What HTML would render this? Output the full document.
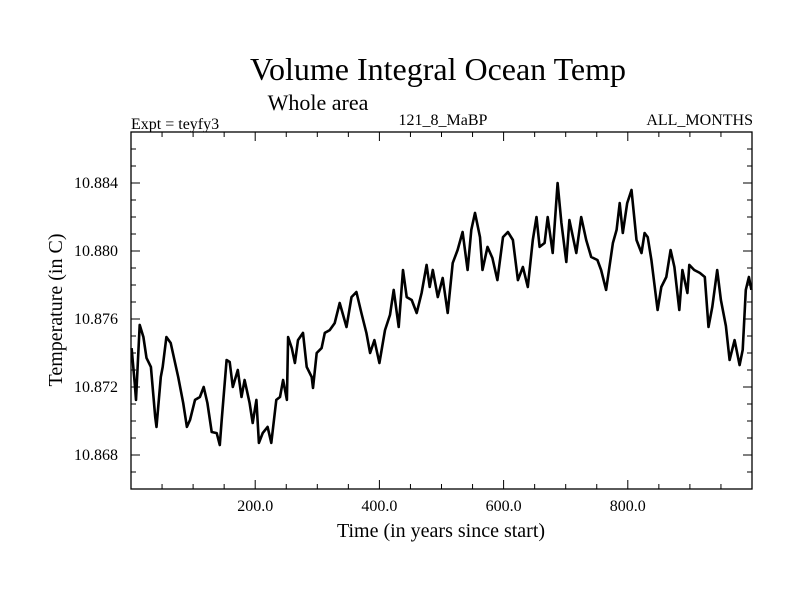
<!DOCTYPE html>
<html><head><meta charset="utf-8">
<style>
html,body{margin:0;padding:0;background:#fff;}
svg{display:block;font-family:"Liberation Serif",serif;}
</style></head>
<body>
<svg id="chart" width="800" height="600" viewBox="0 0 800 600">
<text x="438" y="80" font-size="32" text-anchor="middle">Volume Integral Ocean Temp</text>
<text x="318" y="110" font-size="22" text-anchor="middle">Whole area</text>
<text x="131" y="129" font-size="16">Expt = teyfy3</text>
<text x="443" y="125" font-size="16" text-anchor="middle">121_8_MaBP</text>
<text x="753" y="125" font-size="16" text-anchor="end">ALL_MONTHS</text>
<text x="441" y="537" font-size="20" text-anchor="middle">Time (in years since start)</text>
<text transform="translate(62,310) rotate(-90)" font-size="20" text-anchor="middle">Temperature (in C)</text>
<g id="axes"></g>
<g id="plot"></g>
</svg>
<script>
const years=[1,6,8,14,20,25,32,39,41,48,51,57,64,71,76,84,90,95,103,111,117,123,130,138,143,146,154,159,164,172,178,183,191,196,202,206,212,220,226,234,240,245,251,253,259,264,269,277,283,291,293,299,307,312,320,328,336,347,355,363,371,379,385,392,400,409,417,423,431,438,444,452,460,468,476,481,486,494,502,510,518,526,534,542,548,554,562,566,574,582,590,599,607,615,623,631,639,647,653,658,666,671,679,687,693,701,706,717,725,733,741,751,757,765,776,782,787,792,799,806,814,822,827,832,838,848,854,862,869,875,883,888,896,899,907,916,924,930,936,944,950,958,964,972,980,985,990,995,999];
const temps=[10.87429,10.87224,10.87124,10.87565,10.87494,10.87371,10.87318,10.87024,10.86965,10.87259,10.87318,10.87494,10.87459,10.87341,10.87259,10.87106,10.86965,10.87006,10.87124,10.87141,10.872,10.87106,10.86935,10.86929,10.86859,10.87006,10.87359,10.87347,10.872,10.873,10.87141,10.87241,10.87106,10.86988,10.87124,10.86871,10.86929,10.86965,10.86871,10.87124,10.87141,10.87241,10.87124,10.87494,10.87429,10.87341,10.87476,10.87518,10.87318,10.87259,10.87194,10.874,10.87429,10.87518,10.87535,10.87576,10.87694,10.87553,10.87729,10.87759,10.87635,10.87518,10.874,10.87476,10.87341,10.87535,10.87624,10.87771,10.87553,10.87888,10.87729,10.87712,10.87635,10.87753,10.87918,10.87788,10.87888,10.87729,10.87841,10.87635,10.87929,10.88006,10.88112,10.87888,10.88124,10.88224,10.88082,10.87888,10.88024,10.87959,10.87829,10.88082,10.88112,10.88065,10.87829,10.87906,10.87788,10.88065,10.882,10.88024,10.88047,10.882,10.87988,10.884,10.88165,10.87935,10.88182,10.87988,10.882,10.88065,10.87965,10.87947,10.87888,10.87771,10.88047,10.88124,10.88282,10.88106,10.88282,10.88359,10.88065,10.87988,10.88106,10.88082,10.87947,10.87653,10.87788,10.87847,10.88006,10.87906,10.87653,10.87888,10.87753,10.87918,10.87888,10.87871,10.87847,10.87553,10.87671,10.87888,10.87712,10.87559,10.87359,10.87476,10.87329,10.87418,10.87771,10.87847,10.87771];
const xTickVals=[200,400,600,800];
const xTickLabels=["200.0","400.0","600.0","800.0"];
const yTickVals=[10.868,10.872,10.876,10.880,10.884];
const yTickLabels=["10.868","10.872","10.876","10.880","10.884"];
const X0=131,X1=752,Y0=489,Y1=132,xMin=0,xMax=1000,yMin=10.866,yMax=10.887;
function xs(v){return X0+(v-xMin)/(xMax-xMin)*(X1-X0);}
function ys(v){return Y0-(v-yMin)/(yMax-yMin)*(Y0-Y1);}
const NS="http://www.w3.org/2000/svg";
const axes=document.getElementById('axes'),plot=document.getElementById('plot');
function mk(tag,attrs,parent){const e=document.createElementNS(NS,tag);for(const k in attrs)e.setAttribute(k,attrs[k]);parent.appendChild(e);return e;}
const frame=mk('rect',{x:X0,y:Y1,width:X1-X0,height:Y0-Y1,fill:'none',stroke:'#000','stroke-width':1.3},axes);


for(let v=0;v<=1000;v+=50){
  const major=v%200===0;const L=major?9:5;const x=xs(v);
  const t1=mk('line',{x1:x,x2:x,y1:Y0,y2:Y0-L,stroke:'#000','stroke-width':1},axes);
  
  
  const t2=mk('line',{x1:x,x2:x,y1:Y1,y2:Y1+L,stroke:'#000','stroke-width':1},axes);
  
  
}
for(let i=0;i<=21;i++){
  const v=yMin+i*0.001;const major=Math.abs(((v-10.868)/0.004)-Math.round((v-10.868)/0.004))<1e-6;const L=major?9:5;const y=ys(v);
  const t1=mk('line',{x1:X0,x2:X0+L,y1:y,y2:y,stroke:'#000','stroke-width':1},axes);
  
  
  const t2=mk('line',{x1:X1,x2:X1-L,y1:y,y2:y,stroke:'#000','stroke-width':1},axes);
  
  
}
xTickVals.forEach((v,i)=>{
  const t=mk('text',{x:xs(v),y:511,'font-size':16,'text-anchor':'middle'},axes);t.textContent=xTickLabels[i];
  
  
});
yTickVals.forEach((v,i)=>{
  const t=mk('text',{x:118,y:ys(v)+5,'font-size':16,'text-anchor':'end'},axes);t.textContent=yTickLabels[i];
  
  
});
const d=years.map((yr,i)=>(i?'L':'M')+xs(yr).toFixed(1)+','+ys(temps[i]).toFixed(1)).join(' ');
const line=mk('path',{d:d,fill:'none',stroke:'#000','stroke-width':2.6,'stroke-linejoin':'round'},plot);


</script>
</body></html>
